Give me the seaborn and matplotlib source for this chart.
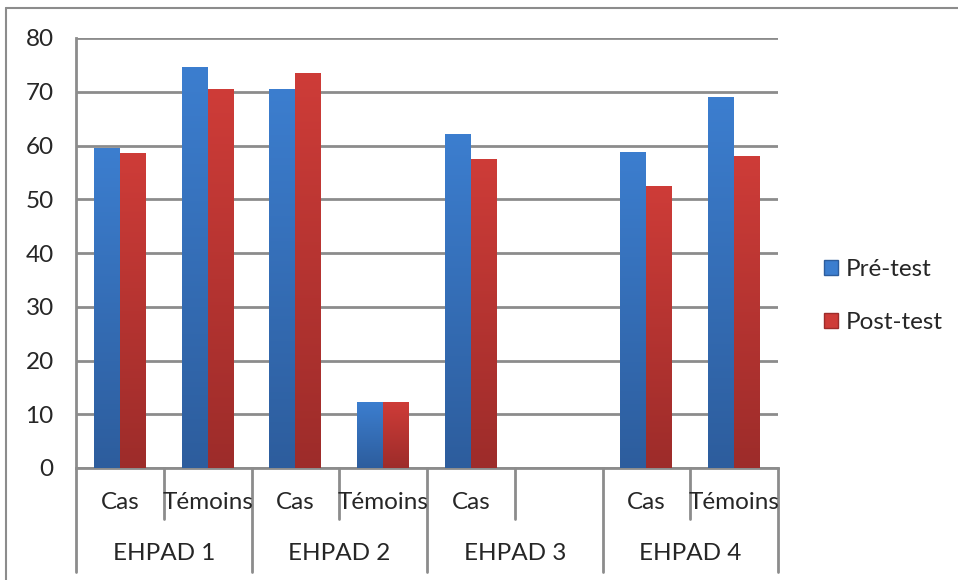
import numpy as np
import pandas as pd
import seaborn as sns
import matplotlib.pyplot as plt
from matplotlib.colors import LinearSegmentedColormap
from matplotlib.patches import Patch
from matplotlib.lines import Line2D

groups = ["EHPAD 1", "EHPAD 1", "EHPAD 2", "EHPAD 2", "EHPAD 3", "EHPAD 3", "EHPAD 4", "EHPAD 4"]
subs = ["Cas", "Témoins", "Cas", "Témoins", "Cas", "", "Cas", "Témoins"]
pre_test = [59.5, 74.6, 70.5, 12.2, 62.1, np.nan, 58.8, 69.0]
post_test = [58.6, 70.5, 73.5, 12.2, 57.5, np.nan, 52.5, 58.0]
series = ["Pré-test", "Post-test"]

slots = [f"{g}|{s}|{i}" for i, (g, s) in enumerate(zip(groups, subs))]
df = pd.DataFrame({
    "slot": slots * 2,
    "serie": [series[0]] * 8 + [series[1]] * 8,
    "valeur": pre_test + post_test,
})

sns.set_style("white")
plt.rcParams["font.family"] = ["Lato", "DejaVu Sans"]
fs = 17.5

fig = plt.figure(figsize=(9.58, 5.8), dpi=100)
ax = fig.add_axes([76 / 958, 112 / 580, 702 / 958, 430 / 580])

blue_top, blue_bot = "#3c7ecf", "#2d5d9d"
red_top, red_bot = "#ce3c38", "#9d2c2a"

sns.barplot(data=df, x="slot", y="valeur", hue="serie", order=slots,
            hue_order=series, palette=[blue_top, red_top], width=0.59,
            dodge=True, saturation=1, legend=False, ax=ax, zorder=3)

# gradient fill, like the Excel bars (per bar, light top -> dark bottom)
cmaps = [LinearSegmentedColormap.from_list("b", [blue_bot, blue_top]),
         LinearSegmentedColormap.from_list("r", [red_bot, red_top])]
grad = np.linspace(0, 1, 256).reshape(-1, 1)
for cont, cm in zip(ax.containers, cmaps):
    for bar in cont:
        h = bar.get_height()
        if not np.isfinite(h) or h == 0:
            continue
        x0, w = bar.get_x(), bar.get_width()
        im = ax.imshow(grad, extent=[x0, x0 + w, 0, h], origin="lower",
                       aspect="auto", cmap=cm, zorder=3, vmin=0, vmax=1)
        im.set_clip_path(bar)
        bar.set_facecolor("none")
        bar.set_edgecolor("none")

ax.set_xlim(-0.5, 7.5)
ax.set_ylim(0, 80)
ax.set_yticks(range(0, 81, 10))
ax.yaxis.grid(True, color="#8c8c8c", linewidth=2, zorder=0)
ax.set_axisbelow(True)
ax.tick_params(axis="y", length=9, width=2, color="#8c8c8c", labelsize=fs, pad=7)
ax.set_xticks([])
ax.set_xlabel("")
ax.set_ylabel("")
for side in ["top", "right"]:
    ax.spines[side].set_visible(False)
for side in ["left", "bottom"]:
    ax.spines[side].set_color("#8c8c8c")
    ax.spines[side].set_linewidth(2)

# two-level category axis
trans = ax.get_xaxis_transform()
for i, s in enumerate(subs):
    ax.text(i, -0.081, s, transform=trans, ha="center", va="center", fontsize=fs)
for x in [0.5, 2.5, 4.5, 6.5]:
    ax.plot([x, x], [0, -0.119], transform=trans, color="#8c8c8c", lw=2, clip_on=False)
for x in [-0.5, 1.5, 3.5, 5.5, 7.5]:
    ax.plot([x, x], [0, -0.242], transform=trans, color="#8c8c8c", lw=2, clip_on=False)
for i, g in enumerate(["EHPAD 1", "EHPAD 2", "EHPAD 3", "EHPAD 4"]):
    ax.text(2 * i + 0.5, -0.198, g, transform=trans, ha="center", va="center", fontsize=fs)

handles = [Patch(facecolor=blue_top, edgecolor=blue_bot),
           Patch(facecolor=red_top, edgecolor=red_bot)]
fig.legend(handles, series, loc="center left", bbox_to_anchor=(802 / 958, 1 - 296 / 580),
           frameon=False, fontsize=fs, handlelength=0.6, handleheight=0.6,
           handletextpad=0.3, labelspacing=1.3)

# chart area border (top and left visible)
fig.add_artist(Line2D([6 / 958, 6 / 958], [0, 1 - 8 / 580], color="#8c8c8c", lw=1.5))
fig.add_artist(Line2D([6 / 958, 1], [1 - 8 / 580, 1 - 8 / 580], color="#8c8c8c", lw=1.5))

fig.savefig("out.png", dpi=100)
